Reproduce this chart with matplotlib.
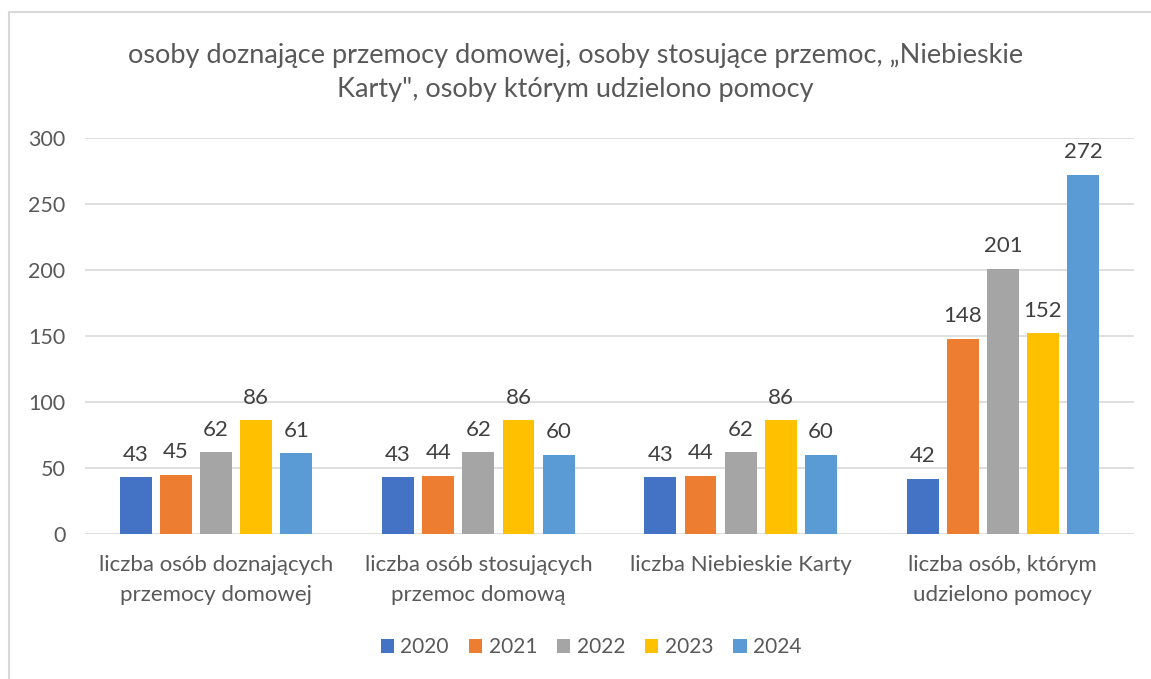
import matplotlib
matplotlib.use("Agg")
import matplotlib.pyplot as plt
import numpy as np
from matplotlib.patches import Rectangle

categories = ["liczba osób doznających\nprzemocy domowej",
              "liczba osób stosujących\nprzemoc domową",
              "liczba Niebieskie Karty",
              "liczba osób, którym\nudzielono pomocy"]
years = ["2020", "2021", "2022", "2023", "2024"]
v2020 = [43, 43, 43, 42]
v2021 = [45, 44, 44, 148]
v2022 = [62, 62, 62, 201]
v2023 = [86, 86, 86, 152]
v2024 = [61, 60, 60, 272]
series = [v2020, v2021, v2022, v2023, v2024]
colors = ["#4472C4", "#ED7D31", "#A5A5A5", "#FFC000", "#5B9BD5"]
title = "osoby doznające przemocy domowej, osoby stosujące przemoc, \u201eNiebieskie\nKarty\", osoby którym udzielono pomocy"

plt.rcParams['font.family'] = ['Lato', 'DejaVu Sans']
txt = "#595959"

fig = plt.figure(figsize=(11.51, 6.79), dpi=100)
fig.patches.append(Rectangle((9/1151, -0.1), 1.2, 1 - 12/679 + 0.1, transform=fig.transFigure,
                             fill=False, edgecolor="#D9D9D9", linewidth=1.5))
ax = fig.add_axes([85/1151, 1 - 534/679, (1134 - 85)/1151, (534 - 138)/679])

x = np.arange(len(categories))
step = 0.153
width = 0.122
for i, (vals, c, y) in enumerate(zip(series, colors, years)):
    pos = x + (i - 2) * step
    bars = ax.bar(pos, vals, width, color=c, label=y, zorder=3)
    ax.bar_label(bars, padding=9, fontsize=16, color="#404040")

ax.set_xlim(-0.5, 3.5)
ax.set_ylim(0, 300)
ax.set_yticks(range(0, 301, 50))
ax.grid(axis="y", color="#D9D9D9", linewidth=1.2, zorder=0)
for s in ax.spines.values():
    s.set_visible(False)
ax.tick_params(axis="both", length=0, labelcolor=txt)
ax.tick_params(axis="y", pad=14, labelsize=15.5)
ax.tick_params(axis="x", pad=15, labelsize=16)
ax.set_xticks(x)
ax.set_xticklabels(categories, linespacing=1.65)

fig.text(0.5, 1 - 73/679, title, ha="center", va="center", fontsize=19.5, color=txt, linespacing=1.45)

leg = fig.legend(loc="center", bbox_to_anchor=(591/1151, 1 - 647/679), ncol=5, frameon=False,
                 fontsize=15, handlelength=0.65, handleheight=0.65, handletextpad=0.3, columnspacing=0.95)
for t in leg.get_texts():
    t.set_color(txt)

fig.savefig("out.png", dpi=100)
